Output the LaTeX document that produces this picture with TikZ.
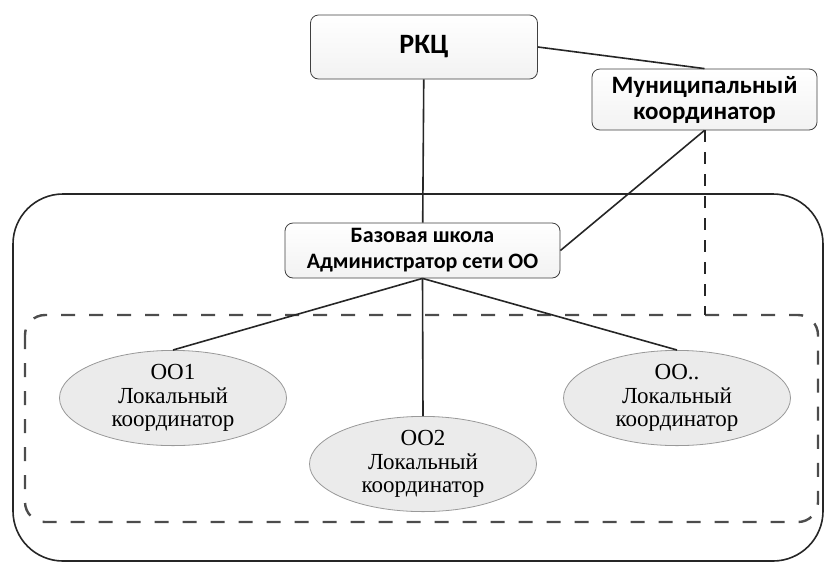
\documentclass[tikz,border=0pt]{standalone}
\usepackage{fontspec}
\setmainfont{Liberation Serif}
\newfontfamily\boxfont{Carlito}
\tikzset{
  orgbox/.style={draw=black!75, rounded corners=4pt, top color=white, bottom color=black!5,
    align=center, inner sep=0pt, font=\boxfont\bfseries},
  oobox/.style={draw=black!40, ellipse, fill=black!8, align=center, inner sep=0pt,
    minimum width=113.5pt, minimum height=45pt, font=\fontsize{11.5}{11.8}\selectfont},
  link/.style={draw=black!85, line width=0.8pt}
}
\usetikzlibrary{shapes.geometric}
\begin{document}
\begin{tikzpicture}[x=0.5pt,y=-0.5pt]
\useasboundingbox (0,0) rectangle (824,563);
% outer frame and dashed group
\draw[black!85, line width=0.8pt, rounded corners=25pt] (13,194) rectangle (823,561);
\draw[black!70, line width=1.2pt, dash pattern=on 7pt off 7pt, rounded corners=10pt] (25,315) rectangle (818,522);
% boxes
\node[orgbox, minimum width=113.5pt, minimum height=32pt, font=\boxfont\bfseries\fontsize{14}{16}\selectfont] (rkc) at (424,47) {РКЦ};
\node[orgbox, minimum width=112.5pt, minimum height=30.5pt, font=\boxfont\bfseries\fontsize{12.5}{13}\selectfont] (mun) at (704.5,99.5) {Муниципальный\\координатор};
\node[orgbox, minimum width=137.5pt, minimum height=27.5pt, font=\boxfont\bfseries\fontsize{11}{13}\selectfont] (baza) at (422.5,250.5) {Базовая школа\\Администратор сети ОО};
% local schools
\node[oobox] (oo1) at (173,398) {ОО1\\Локальный\\координатор};
\node[oobox] (oo2) at (423,464) {ОО2\\Локальный\\координатор};
\node[oobox] (oon) at (677,398) {ОО..\\Локальный\\координатор};
\coordinate (grp) at (mun.south |- 0,315);
% links
\draw[link] (rkc) -- (baza);
\draw[link] (rkc.east) -- (mun.north);
\draw[link] (baza.east) -- (mun.south);
\draw[black!85, line width=1pt, dash pattern=on 6pt off 5pt] (mun.south) -- (grp);
\foreach \oo in {oo1,oo2,oon}
  \draw[link] (baza.south) -- (\oo.north);
\end{tikzpicture}
\end{document}
